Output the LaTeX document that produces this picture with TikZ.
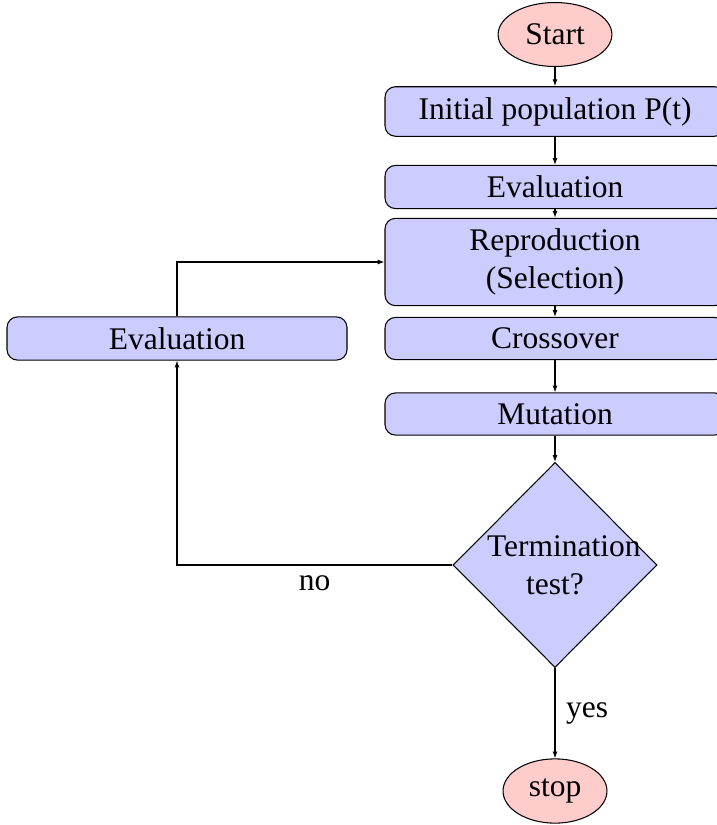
\documentclass[tikz,border=0pt]{standalone}
\usepackage{fontspec}
\setmainfont{Liberation Serif}
\usetikzlibrary{shapes.geometric,arrows.meta}
\newcommand{\pxu}{0.381pt}
\begin{document}
\begin{tikzpicture}[x=\pxu,y=-\pxu,
  every node/.style={font=\fontsize{12}{14.4}\selectfont, inner sep=4pt},
  procbox/.style={rectangle, rounded corners=4pt, draw=black, fill=blue!20,
    minimum width={340*\pxu}, align=center},
  termbox/.style={ellipse, draw=black, fill=red!20, minimum height={64*\pxu}},
  decbox/.style={diamond, draw=black, fill=blue!20, inner sep=0pt,
    minimum width={204*\pxu}, minimum height={205*\pxu},
    text width={136*\pxu}, align=center},
  arr/.style={-{Latex[length=2.6pt,width=1.9pt]}, draw=black}]
\useasboundingbox (0,0) rectangle (717,825);
\node[termbox] (start) at (555,34.5) {Start};
\node[procbox] (init) at (555,111.5) {Initial population P(t)};
\node[procbox] (evalA) at (555,187) {Evaluation};
\node[procbox] (repro) at (555,262) {Reproduction\\(Selection)};
\node[procbox] (cross) at (555,338.5) {Crossover};
\node[procbox] (mut) at (555,414) {Mutation};
\node[decbox] (test) at (555,565) {Termination test?};
\node[termbox] (stop) at (555,791) {stop};
\node[procbox] (evalB) at (177,338.5) {Evaluation};
\draw[arr] (start) -- (init);
\draw[arr] (init) -- (evalA);
\draw[arr] (evalA) -- (repro);
\draw[arr] (repro) -- (cross);
\draw[arr] (cross) -- (mut);
\draw[arr] (mut) -- (test);
\draw[arr] (test) -- node[right] {yes} (stop);
\draw[arr] (test.west) -- node[below] {no} (test.west -| evalB) -- (evalB.south);
\draw[arr] (evalB.north) |- (repro.west);
\end{tikzpicture}
\end{document}
